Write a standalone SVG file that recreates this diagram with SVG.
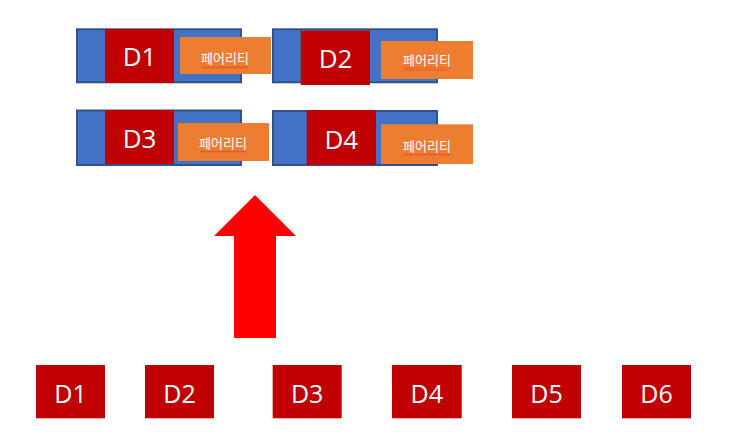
<svg xmlns="http://www.w3.org/2000/svg" width="729" height="435" viewBox="0 0 729 435">
<defs>
<style>
.blue{fill:#4472C4;stroke:#2F528F;stroke-width:2}
.red{fill:#C00000}
.org{fill:#ED7D31}
.dt{font-family:"Open Sans","Noto Sans","DejaVu Sans",sans-serif;fill:#FFFFFF;text-anchor:middle}
.big{font-size:26px}
.small{font-size:25px}
.kt{font-family:"Noto Sans CJK KR","Noto Sans",sans-serif;font-size:13px;fill:#FFFFFF;text-anchor:middle}
</style>
<pattern id="zz" width="4" height="3" patternUnits="userSpaceOnUse">
<path d="M0,2.5 L2,0.5 L4,2.5" fill="none" stroke="#FF2020" stroke-width="0.9"/>
</pattern>
</defs>
<rect width="729" height="435" fill="#FFFFFF"/>

<g id="stripe1">
<rect class="blue" x="77" y="29.3" width="164" height="53"/>
<rect class="red" x="105" y="29" width="69" height="54"/>
<text class="dt big" x="139.5" y="66">D1</text>
<rect class="org" x="180" y="37" width="91" height="37"/>
<text class="kt" x="225" y="63">페어리티</text>
<rect x="202" y="66" width="46" height="3" fill="url(#zz)"/>
</g>

<g id="stripe2">
<rect class="blue" x="273" y="29.3" width="164" height="53"/>
<rect class="red" x="300.7" y="30.7" width="69.3" height="54.3"/>
<text class="dt big" x="335.5" y="68">D2</text>
<rect class="org" x="381" y="41" width="92" height="38"/>
<text class="kt" x="427" y="64.5">페어리티</text>
<rect x="403" y="67.5" width="47" height="3" fill="url(#zz)"/>
</g>

<g id="stripe3">
<rect class="blue" x="77" y="110.5" width="164" height="54.5"/>
<rect class="red" x="105" y="110" width="69" height="54"/>
<text class="dt big" x="139.5" y="147.5">D3</text>
<rect class="org" x="178" y="123" width="91" height="38"/>
<text class="kt" x="223" y="148">페어리티</text>
<rect x="200" y="150.5" width="46" height="3" fill="url(#zz)"/>
</g>

<g id="stripe4">
<rect class="blue" x="273" y="111" width="164" height="54"/>
<rect class="red" x="306.7" y="110" width="69.3" height="55"/>
<text class="dt big" x="341.3" y="149">D4</text>
<rect class="org" x="381" y="124.3" width="92" height="39.7"/>
<text class="kt" x="427" y="151">페어리티</text>
<rect x="403" y="153.5" width="47" height="3" fill="url(#zz)"/>
</g>

<g id="connectors">
<polygon id="arrow" points="255,195 296,236 276,236 276,338 234,338 234,236 214,236" fill="#FF0000"/>
</g>

<g id="disk1"><rect class="red" x="36" y="365" width="69" height="53.3"/><text class="dt small" x="70.5" y="402.7">D1</text></g>
<g id="disk2"><rect class="red" x="145" y="365" width="69" height="53.3"/><text class="dt small" x="179.5" y="402.7">D2</text></g>
<g id="disk3"><rect class="red" x="272.7" y="365" width="69" height="53.3"/><text class="dt small" x="307.2" y="402.7">D3</text></g>
<g id="disk4"><rect class="red" x="392" y="365" width="69.7" height="53.3"/><text class="dt small" x="426.8" y="402.7">D4</text></g>
<g id="disk5"><rect class="red" x="512" y="365" width="69" height="53.3"/><text class="dt small" x="546.5" y="402.7">D5</text></g>
<g id="disk6"><rect class="red" x="622" y="365" width="69" height="53.3"/><text class="dt small" x="656.5" y="402.7">D6</text></g>
</svg>
